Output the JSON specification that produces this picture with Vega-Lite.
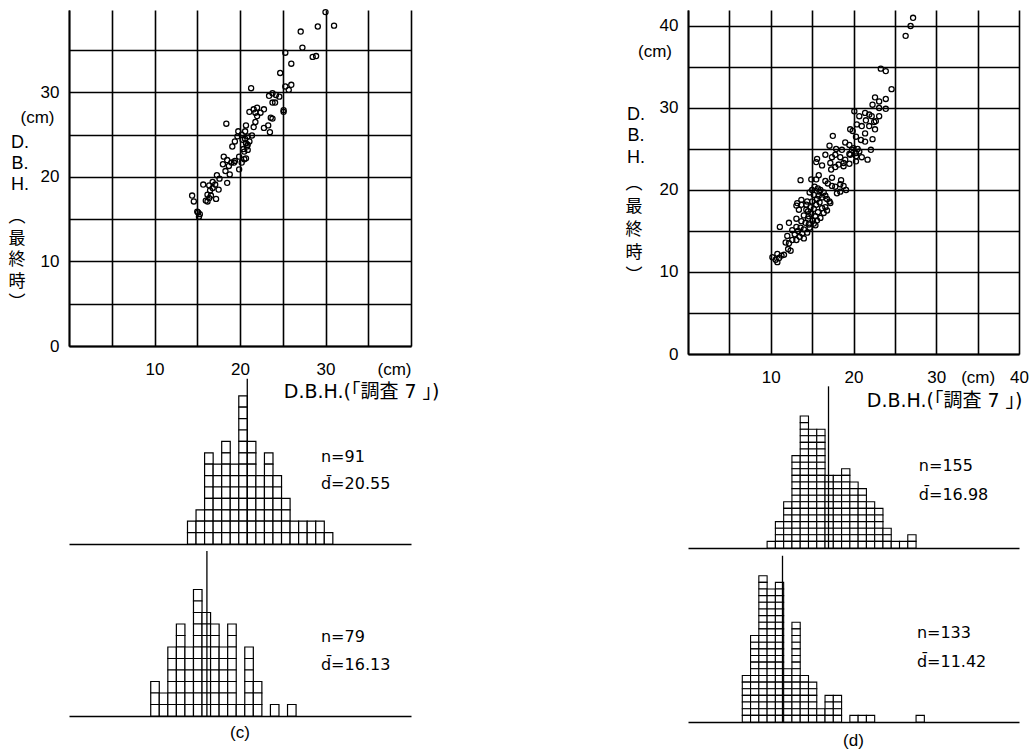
{
"$schema": "https://vega.github.io/schema/vega-lite/v6.json",
"background": "white",
"padding": {"left": 8, "top": 6, "right": 0, "bottom": 0},
"config": {"view": {"stroke": null}, "font": "Liberation Sans", "text": {"color": "black"}},
"datasets": {
"c_sc": [{"x":30.0,"y":39.5},{"x":31.0,"y":37.9},{"x":29.1,"y":37.8},{"x":27.1,"y":37.2},{"x":27.3,"y":35.3},{"x":28.5,"y":34.2},{"x":28.9,"y":34.3},{"x":25.3,"y":34.7},{"x":26.0,"y":33.4},{"x":24.7,"y":32.3},
{"x":26.0,"y":30.9},{"x":25.3,"y":30.7},{"x":25.7,"y":30.3},{"x":21.3,"y":30.5},{"x":23.4,"y":29.6},{"x":23.8,"y":29.9},{"x":24.6,"y":29.5},{"x":24.2,"y":29.7},{"x":23.8,"y":28.8},{"x":24.1,"y":28.8},
{"x":25.1,"y":27.9},{"x":25.1,"y":27.7},{"x":22.0,"y":28.2},{"x":22.8,"y":28.0},{"x":21.6,"y":28.0},{"x":21.1,"y":27.7},{"x":21.8,"y":27.6},{"x":22.4,"y":27.6},{"x":22.0,"y":27.2},{"x":23.6,"y":27.0},
{"x":23.8,"y":26.9},{"x":18.4,"y":26.3},{"x":20.7,"y":26.1},{"x":21.8,"y":26.5},{"x":21.6,"y":25.9},{"x":22.8,"y":25.8},{"x":23.3,"y":26.1},{"x":23.5,"y":25.3},{"x":19.8,"y":25.4},{"x":20.6,"y":25.4},
{"x":20.2,"y":25.0},{"x":19.7,"y":24.8},{"x":21.4,"y":24.9},{"x":20.9,"y":24.8},{"x":20.6,"y":24.5},{"x":20.3,"y":24.4},{"x":21.1,"y":24.2},{"x":20.7,"y":24.0},{"x":19.4,"y":24.2},{"x":19.1,"y":23.6},
{"x":20.9,"y":23.8},{"x":20.4,"y":23.3},{"x":20.5,"y":23.0},{"x":20.7,"y":22.2},{"x":19.9,"y":22.4},{"x":18.1,"y":22.4},{"x":18.5,"y":22.0},{"x":19.0,"y":21.7},{"x":19.4,"y":21.9},{"x":20.5,"y":22.1},
{"x":20.2,"y":21.7},{"x":18.0,"y":21.5},{"x":18.7,"y":21.3},{"x":19.9,"y":20.9},{"x":18.3,"y":20.7},{"x":17.3,"y":20.2},{"x":18.8,"y":20.3},{"x":17.6,"y":19.8},{"x":16.8,"y":19.4},{"x":17.1,"y":19.1},
{"x":18.5,"y":19.3},{"x":15.7,"y":19.1},{"x":16.4,"y":19.0},{"x":16.8,"y":18.7},{"x":17.5,"y":18.5},{"x":16.5,"y":18.4},{"x":16.2,"y":17.9},{"x":16.6,"y":17.8},{"x":17.2,"y":17.4},{"x":16.4,"y":17.5},
{"x":16.2,"y":17.1},{"x":16.0,"y":17.2},{"x":14.4,"y":17.8},{"x":14.6,"y":17.1},{"x":15.1,"y":15.8},{"x":15.3,"y":15.6},{"x":15.2,"y":15.3},{"x":15.0,"y":15.9},{"x":20.8,"y":23.6},{"x":20.9,"y":23.2},{"x":19.3,"y":21.7}],
"d_sc": [{"x":27.2,"y":41.0},{"x":26.9,"y":40.0},{"x":26.3,"y":38.8},{"x":23.3,"y":34.8},{"x":23.9,"y":34.5},{"x":24.6,"y":32.3},{"x":23.9,"y":31.1},{"x":22.6,"y":31.3},{"x":23.1,"y":30.8},{"x":22.3,"y":30.4},
{"x":23.1,"y":30.0},{"x":23.9,"y":29.9},{"x":20.1,"y":29.6},{"x":20.7,"y":29.0},{"x":21.4,"y":29.4},{"x":21.9,"y":29.2},{"x":22.2,"y":29.0},{"x":21.5,"y":28.5},{"x":22.5,"y":28.3},{"x":20.4,"y":28.0},
{"x":21.0,"y":27.8},{"x":21.9,"y":27.8},{"x":22.6,"y":27.4},{"x":19.6,"y":27.4},{"x":19.9,"y":27.2},{"x":21.4,"y":26.9},{"x":22.3,"y":26.2},{"x":20.3,"y":26.5},{"x":17.5,"y":26.6},{"x":21.4,"y":25.9},
{"x":19.0,"y":25.8},{"x":19.5,"y":25.5},{"x":17.1,"y":25.4},{"x":22.1,"y":24.9},{"x":18.6,"y":24.9},{"x":19.8,"y":24.9},{"x":20.3,"y":24.5},{"x":20.7,"y":24.7},{"x":19.5,"y":24.4},{"x":17.8,"y":24.3},
{"x":16.6,"y":24.3},{"x":18.4,"y":24.0},{"x":17.4,"y":24.0},{"x":21.0,"y":24.0},{"x":15.6,"y":23.8},{"x":20.3,"y":23.5},{"x":18.8,"y":23.3},{"x":19.5,"y":23.2},{"x":17.2,"y":23.3},{"x":18.2,"y":23.1},
{"x":15.5,"y":23.4},{"x":16.2,"y":23.0},{"x":17.8,"y":22.8},{"x":18.8,"y":22.9},{"x":17.3,"y":22.5},{"x":13.6,"y":21.2},{"x":14.9,"y":21.3},{"x":15.5,"y":21.3},{"x":18.5,"y":21.2},{"x":17.4,"y":21.5},
{"x":16.6,"y":21.1},{"x":18.4,"y":20.7},{"x":18.8,"y":20.5},{"x":17.4,"y":20.5},{"x":17.8,"y":20.4},{"x":19.1,"y":20.0},{"x":18.4,"y":19.8},{"x":15.3,"y":20.4},{"x":15.7,"y":20.2},{"x":14.7,"y":19.7},
{"x":15.2,"y":19.4},{"x":15.8,"y":19.3},{"x":16.2,"y":19.1},{"x":16.6,"y":19.3},{"x":15.6,"y":18.9},{"x":15.0,"y":18.6},{"x":17.1,"y":18.6},{"x":15.9,"y":18.5},{"x":15.5,"y":18.2},{"x":13.2,"y":18.4},
{"x":13.1,"y":18.1},{"x":13.7,"y":18.2},{"x":14.3,"y":18.2},{"x":14.8,"y":17.9},{"x":15.2,"y":17.7},{"x":16.2,"y":17.8},{"x":16.6,"y":17.9},{"x":16.8,"y":17.5},{"x":13.4,"y":17.6},{"x":14.5,"y":17.4},
{"x":15.7,"y":17.3},{"x":14.9,"y":17.1},{"x":14.0,"y":16.9},{"x":15.4,"y":16.8},{"x":16.0,"y":16.6},{"x":14.5,"y":16.5},{"x":15.1,"y":16.3},{"x":15.6,"y":16.3},{"x":13.1,"y":16.5},{"x":13.7,"y":16.2},
{"x":12.2,"y":16.0},{"x":11.1,"y":15.5},{"x":14.2,"y":16.0},{"x":14.6,"y":15.8},{"x":15.4,"y":15.7},{"x":13.1,"y":15.5},{"x":13.6,"y":15.4},{"x":14.0,"y":15.2},{"x":13.3,"y":15.0},{"x":14.4,"y":14.8},
{"x":13.8,"y":14.7},{"x":12.9,"y":14.6},{"x":12.0,"y":14.4},{"x":13.5,"y":14.3},{"x":14.0,"y":14.1},{"x":12.6,"y":13.9},{"x":13.1,"y":13.9},{"x":11.8,"y":13.6},{"x":12.2,"y":13.5},{"x":12.1,"y":12.8},
{"x":12.4,"y":12.6},{"x":11.6,"y":12.1},{"x":10.8,"y":12.2},{"x":11.0,"y":11.7},{"x":10.2,"y":11.8},{"x":10.6,"y":11.5},{"x":10.8,"y":11.2},{"x":11.3,"y":12.0},
{"x":15.0,"y":20.0},{"x":16.4,"y":19.7},{"x":16.0,"y":20.0},{"x":16.8,"y":18.9},{"x":14.3,"y":17.6},{"x":13.7,"y":18.8},{"x":16.4,"y":17.2},{"x":14.6,"y":16.8},{"x":15.2,"y":15.9},{"x":14.7,"y":15.4},
{"x":12.6,"y":15.1},{"x":20.9,"y":26.1},{"x":21.7,"y":23.7},{"x":20.0,"y":25.1},{"x":19.0,"y":23.7},{"x":16.9,"y":20.8},{"x":18.0,"y":19.6},{"x":15.8,"y":21.8},{"x":22.7,"y":28.4},{"x":23.1,"y":29.0},
{"x":19.6,"y":24.3},{"x":20.3,"y":24.1},{"x":17.2,"y":18.4},{"x":14.4,"y":18.6},{"x":17.9,"y":25.0},{"x":20.5,"y":25.0},{"x":15.9,"y":19.8}],
"c_h1": [{"d":14},{"d":14},
{"d":15},{"d":15},{"d":15},
{"d":16},{"d":16},{"d":16},{"d":16},{"d":16},{"d":16},{"d":16},{"d":16},
{"d":17},{"d":17},{"d":17},{"d":17},{"d":17},{"d":17},{"d":17},
{"d":18},{"d":18},{"d":18},{"d":18},{"d":18},{"d":18},{"d":18},{"d":18},{"d":18},
{"d":19},{"d":19},{"d":19},{"d":19},{"d":19},{"d":19},{"d":19},
{"d":20},{"d":20},{"d":20},{"d":20},{"d":20},{"d":20},{"d":20},{"d":20},{"d":20},{"d":20},{"d":20},{"d":20},{"d":20},
{"d":21},{"d":21},{"d":21},{"d":21},{"d":21},{"d":21},{"d":21},{"d":21},{"d":21},
{"d":22},{"d":22},{"d":22},{"d":22},{"d":22},{"d":22},
{"d":23},{"d":23},{"d":23},{"d":23},{"d":23},{"d":23},{"d":23},{"d":23},
{"d":24},{"d":24},{"d":24},{"d":24},{"d":24},{"d":24},
{"d":25},{"d":25},{"d":25},{"d":25},
{"d":26},{"d":26},{"d":27},{"d":27},{"d":28},{"d":28},{"d":29},{"d":29},{"d":30}],
"c_h2": [{"d":10},{"d":10},{"d":10},
{"d":11},{"d":11},
{"d":12},{"d":12},{"d":12},{"d":12},{"d":12},{"d":12},
{"d":13},{"d":13},{"d":13},{"d":13},{"d":13},{"d":13},{"d":13},{"d":13},
{"d":14},{"d":14},{"d":14},{"d":14},{"d":14},{"d":14},
{"d":15},{"d":15},{"d":15},{"d":15},{"d":15},{"d":15},{"d":15},{"d":15},{"d":15},{"d":15},{"d":15},
{"d":16},{"d":16},{"d":16},{"d":16},{"d":16},{"d":16},{"d":16},{"d":16},{"d":16},
{"d":17},{"d":17},{"d":17},{"d":17},{"d":17},{"d":17},{"d":17},{"d":17},
{"d":18},{"d":18},{"d":18},{"d":18},{"d":18},{"d":18},
{"d":19},{"d":19},{"d":19},{"d":19},{"d":19},{"d":19},{"d":19},{"d":19},
{"d":20},
{"d":21},{"d":21},{"d":21},{"d":21},{"d":21},{"d":21},
{"d":22},{"d":22},{"d":22},
{"d":24},{"d":26}],
"d_h1": [{"d":10},
{"d":11},{"d":11},{"d":11},{"d":11},
{"d":12},{"d":12},{"d":12},{"d":12},{"d":12},{"d":12},{"d":12},
{"d":13},{"d":13},{"d":13},{"d":13},{"d":13},{"d":13},{"d":13},{"d":13},{"d":13},{"d":13},{"d":13},{"d":13},{"d":13},{"d":13},
{"d":14},{"d":14},{"d":14},{"d":14},{"d":14},{"d":14},{"d":14},{"d":14},{"d":14},{"d":14},{"d":14},{"d":14},{"d":14},{"d":14},{"d":14},{"d":14},{"d":14},{"d":14},{"d":14},{"d":14},
{"d":15},{"d":15},{"d":15},{"d":15},{"d":15},{"d":15},{"d":15},{"d":15},{"d":15},{"d":15},{"d":15},{"d":15},{"d":15},{"d":15},{"d":15},{"d":15},{"d":15},{"d":15},
{"d":16},{"d":16},{"d":16},{"d":16},{"d":16},{"d":16},{"d":16},{"d":16},{"d":16},{"d":16},{"d":16},{"d":16},{"d":16},{"d":16},{"d":16},{"d":16},{"d":16},{"d":16},
{"d":17},{"d":17},{"d":17},{"d":17},{"d":17},{"d":17},{"d":17},{"d":17},{"d":17},{"d":17},{"d":17},
{"d":18},{"d":18},{"d":18},{"d":18},{"d":18},{"d":18},{"d":18},{"d":18},{"d":18},{"d":18},{"d":18},
{"d":19},{"d":19},{"d":19},{"d":19},{"d":19},{"d":19},{"d":19},{"d":19},{"d":19},{"d":19},{"d":19},{"d":19},
{"d":20},{"d":20},{"d":20},{"d":20},{"d":20},{"d":20},{"d":20},{"d":20},{"d":20},{"d":20},
{"d":21},{"d":21},{"d":21},{"d":21},{"d":21},{"d":21},{"d":21},{"d":21},{"d":21},
{"d":22},{"d":22},{"d":22},{"d":22},{"d":22},{"d":22},{"d":22},
{"d":23},{"d":23},{"d":23},{"d":23},{"d":23},{"d":23},
{"d":24},{"d":24},{"d":24},
{"d":25},{"d":26},{"d":27},{"d":27}],
"d_h2": [{"d":7},{"d":7},{"d":7},{"d":7},{"d":7},{"d":7},{"d":7},
{"d":8},{"d":8},{"d":8},{"d":8},{"d":8},{"d":8},{"d":8},{"d":8},{"d":8},{"d":8},{"d":8},{"d":8},{"d":8},
{"d":9},{"d":9},{"d":9},{"d":9},{"d":9},{"d":9},{"d":9},{"d":9},{"d":9},{"d":9},{"d":9},{"d":9},{"d":9},{"d":9},{"d":9},{"d":9},{"d":9},{"d":9},{"d":9},{"d":9},{"d":9},{"d":9},
{"d":10},{"d":10},{"d":10},{"d":10},{"d":10},{"d":10},{"d":10},{"d":10},{"d":10},{"d":10},{"d":10},{"d":10},{"d":10},{"d":10},{"d":10},{"d":10},{"d":10},{"d":10},{"d":10},{"d":10},
{"d":11},{"d":11},{"d":11},{"d":11},{"d":11},{"d":11},{"d":11},{"d":11},{"d":11},{"d":11},{"d":11},{"d":11},{"d":11},{"d":11},{"d":11},{"d":11},{"d":11},{"d":11},{"d":11},{"d":11},{"d":11},
{"d":12},{"d":12},{"d":12},{"d":12},{"d":12},{"d":12},{"d":12},{"d":12},
{"d":13},{"d":13},{"d":13},{"d":13},{"d":13},{"d":13},{"d":13},{"d":13},{"d":13},{"d":13},{"d":13},{"d":13},{"d":13},{"d":13},{"d":13},
{"d":14},{"d":14},{"d":14},{"d":14},{"d":14},{"d":14},{"d":14},
{"d":15},{"d":15},{"d":15},{"d":15},{"d":15},{"d":15},
{"d":16},{"d":16},
{"d":17},{"d":17},{"d":17},{"d":17},
{"d":18},{"d":18},{"d":18},{"d":18},
{"d":20},{"d":21},{"d":22},{"d":28}]
},
"bounds": "flush",
"spacing": 619,
"hconcat": [
{"bounds": "flush", "spacing": 18, "vconcat": [
 {"width": 342, "height": 336, "layer": [
  {"data": {"name": "c_sc"},
   "mark": {"type": "point", "filled": false, "size": 26, "strokeWidth": 1.3, "color": "black", "opacity": 1},
   "encoding": {
    "x": {"field": "x", "type": "quantitative", "scale": {"domain": [0, 40], "nice": false, "zero": false},
     "axis": {"values": [0,5,10,15,20,25,30,35,40], "grid": true, "gridColor": "black", "gridOpacity": 1, "gridWidth": 1.6,
      "ticks": false, "tickSize": 0, "domain": true, "domainColor": "black", "domainWidth": 1.8,
      "labelExpr": "datum.value == 40 ? '(cm)' : (datum.value % 10 == 0 && datum.value > 0 ? datum.label : '')",
      "labelAlign": {"condition": {"test": "datum.value == 40", "value": "right"}, "value": "center"},
      "labelFontSize": 17, "labelColor": "black", "labelPadding": 15, "labelOverlap": false, "labelBound": false, "labelFlush": false,
      "title": "D.B.H.(「調査 7 」)", "titleFont": "DejaVu Sans, Noto Sans CJK JP", "titleFontSize": 19, "titleFontWeight": "normal", "titleColor": "black",
      "titleAnchor": "end", "titleAlign": "right", "titleBaseline": "middle", "titleX": 370, "titleY": 45}},
    "y": {"field": "y", "type": "quantitative", "scale": {"domain": [0, 39.75], "nice": false},
     "axis": {"values": [0,5,10,15,20,25,30,35], "grid": true, "gridColor": "black", "gridOpacity": 1, "gridWidth": 1.6,
      "ticks": false, "tickSize": 0, "domain": true, "domainColor": "black", "domainWidth": 1.8,
      "labelExpr": "datum.value % 10 == 0 ? datum.label : ''", "labelFontSize": 17, "labelColor": "black", "labelPadding": 10, "labelOverlap": false, "title": null}}
   }},
  {"data": {"values": [{}]}, "mark": {"type": "text", "text": "(cm)", "fontSize": 17, "align": "center", "baseline": "middle"},
   "encoding": {"x": {"datum": -3.68, "type": "quantitative"}, "y": {"datum": 26.98, "type": "quantitative"}}},
  {"data": {"values": [{}]}, "mark": {"type": "text", "text": ["D.", "B.", "H."], "fontSize": 18, "lineHeight": 21, "align": "center", "baseline": "top"},
   "encoding": {"x": {"datum": -5.73, "type": "quantitative"}, "y": {"datum": 25.03, "type": "quantitative"}}},
  {"data": {"values": [{}]}, "mark": {"type": "text", "text": ["︵", "最", "終", "時", "︶"], "font": "Noto Sans CJK JP", "fontSize": 17, "lineHeight": 21.5, "align": "center", "baseline": "top"},
   "encoding": {"x": {"datum": -6.08, "type": "quantitative"}, "y": {"datum": 16.2, "type": "quantitative"}}}
 ]},
 {"width": 342, "height": 180, "layer": [
  {"data": {"name": "c_h1"}, "transform": [{"window": [{"op": "row_number", "as": "k"}], "groupby": ["d"]}],
   "mark": {"type": "bar", "fill": "white", "stroke": "black", "strokeWidth": 1.2, "binSpacing": 0},
   "encoding": {
    "x": {"field": "d", "type": "quantitative", "bin": {"step": 1, "anchor": 0.5, "extent": [-0.5, 40.5], "nice": false}, "scale": {"domain": [-0.3, 39.7], "nice": false, "zero": false},
     "axis": {"labels": false, "ticks": false, "grid": false, "domain": true, "domainColor": "black", "domainWidth": 1.6, "title": null}},
    "y": {"aggregate": "count", "type": "quantitative", "scale": {"domain": [0, 15.79], "nice": false}, "axis": null},
    "detail": {"field": "k", "type": "nominal"}}},
  {"data": {"values": [{"n": 91, "mean": 20.55}]}, "mark": {"type": "rule", "color": "black", "strokeWidth": 1.3},
   "encoding": {"x": {"field": "mean", "type": "quantitative"}, "y": {"datum": 0, "type": "quantitative"}, "y2": {"datum": 14.5}}},
  {"data": {"values": [{"n": 91, "mean": 20.55}]}, "mark": {"type": "text", "text": ["n=91", "d̄=20.55"], "font": "DejaVu Sans", "fontSize": 16, "lineHeight": 27, "align": "left", "baseline": "top"},
   "encoding": {"x": {"datum": 29.17, "type": "quantitative"}, "y": {"datum": 8.29, "type": "quantitative"}}}
 ]},
 {"width": 342, "height": 154, "title": {"text": "(c)", "orient": "bottom", "offset": 8, "fontSize": 17, "fontWeight": "normal", "font": "Liberation Sans", "color": "black"},
  "layer": [
  {"data": {"name": "c_h2"}, "transform": [{"window": [{"op": "row_number", "as": "k"}], "groupby": ["d"]}],
   "mark": {"type": "bar", "fill": "white", "stroke": "black", "strokeWidth": 1.2, "binSpacing": 0},
   "encoding": {
    "x": {"field": "d", "type": "quantitative", "bin": {"step": 1, "anchor": 0.5, "extent": [-0.5, 40.5], "nice": false}, "scale": {"domain": [0, 40], "nice": false, "zero": false},
     "axis": {"labels": false, "ticks": false, "grid": false, "domain": true, "domainColor": "black", "domainWidth": 1.6, "title": null}},
    "y": {"aggregate": "count", "type": "quantitative", "scale": {"domain": [0, 13.39], "nice": false}, "axis": null},
    "detail": {"field": "k", "type": "nominal"}}},
  {"data": {"values": [{"n": 79, "mean": 16.13}]}, "mark": {"type": "rule", "color": "black", "strokeWidth": 1.3},
   "encoding": {"x": {"field": "mean", "type": "quantitative"}, "y": {"datum": 0, "type": "quantitative"}, "y2": {"datum": 14.35}}},
  {"data": {"values": [{"n": 79, "mean": 16.13}]}, "mark": {"type": "text", "text": ["n=79", "d̄=16.13"], "font": "DejaVu Sans", "fontSize": 16, "lineHeight": 28, "align": "left", "baseline": "top"},
   "encoding": {"x": {"datum": 29.47, "type": "quantitative"}, "y": {"datum": 7.6, "type": "quantitative"}}}
 ]}
]},
{"bounds": "flush", "spacing": 18, "vconcat": [
 {"width": 331, "height": 344, "layer": [
  {"data": {"name": "d_sc"},
   "mark": {"type": "point", "filled": false, "size": 26, "strokeWidth": 1.3, "color": "black", "opacity": 1},
   "encoding": {
    "x": {"field": "x", "type": "quantitative", "scale": {"domain": [0, 40], "nice": false, "zero": false},
     "axis": {"values": [0,5,10,15,20,25,30,35,40], "grid": true, "gridColor": "black", "gridOpacity": 1, "gridWidth": 1.6,
      "ticks": false, "tickSize": 0, "domain": true, "domainColor": "black", "domainWidth": 1.8,
      "labelExpr": "datum.value == 35 ? '(cm)' : (datum.value % 10 == 0 && datum.value > 0 ? datum.label : '')",
      "labelFontSize": 17, "labelColor": "black", "labelPadding": 15, "labelOverlap": false, "labelBound": false, "labelFlush": false,
      "title": "D.B.H.(「調査 7 」)", "titleFont": "DejaVu Sans, Noto Sans CJK JP", "titleFontSize": 19, "titleFontWeight": "normal", "titleColor": "black",
      "titleAnchor": "end", "titleAlign": "right", "titleBaseline": "middle", "titleX": 334, "titleY": 46}},
    "y": {"field": "y", "type": "quantitative", "scale": {"domain": [0, 41.95], "nice": false},
     "axis": {"values": [0,5,10,15,20,25,30,35,40], "grid": true, "gridColor": "black", "gridOpacity": 1, "gridWidth": 1.6,
      "ticks": false, "tickSize": 0, "domain": true, "domainColor": "black", "domainWidth": 1.8,
      "labelExpr": "datum.value % 10 == 0 ? datum.label : ''", "labelFontSize": 17, "labelColor": "black", "labelPadding": 10, "labelOverlap": false, "title": null}}
   }},
  {"data": {"values": [{}]}, "mark": {"type": "text", "text": "(cm)", "fontSize": 17, "align": "center", "baseline": "middle"},
   "encoding": {"x": {"datum": -3.99, "type": "quantitative"}, "y": {"datum": 36.83, "type": "quantitative"}}},
  {"data": {"values": [{}]}, "mark": {"type": "text", "text": ["D.", "B.", "H."], "fontSize": 18, "lineHeight": 21.5, "align": "center", "baseline": "top"},
   "encoding": {"x": {"datum": -6.28, "type": "quantitative"}, "y": {"datum": 30.3, "type": "quantitative"}}},
  {"data": {"values": [{}]}, "mark": {"type": "text", "text": ["︵", "最", "終", "時", "︶"], "font": "Noto Sans CJK JP", "fontSize": 17, "lineHeight": 23, "align": "center", "baseline": "top"},
   "encoding": {"x": {"datum": -6.52, "type": "quantitative"}, "y": {"datum": 21.65, "type": "quantitative"}}}
 ]},
 {"width": 331, "height": 176, "layer": [
  {"data": {"name": "d_h1"}, "transform": [{"window": [{"op": "row_number", "as": "k"}], "groupby": ["d"]}],
   "mark": {"type": "bar", "fill": "white", "stroke": "black", "strokeWidth": 1.1, "binSpacing": 0},
   "encoding": {
    "x": {"field": "d", "type": "quantitative", "bin": {"step": 1, "anchor": 0.5, "extent": [-0.5, 40.5], "nice": false}, "scale": {"domain": [0, 40], "nice": false, "zero": false},
     "axis": {"labels": false, "ticks": false, "grid": false, "domain": true, "domainColor": "black", "domainWidth": 1.6, "title": null}},
    "y": {"aggregate": "count", "type": "quantitative", "scale": {"domain": [0, 26.67], "nice": false}, "axis": null},
    "detail": {"field": "k", "type": "nominal"}}},
  {"data": {"values": [{"n": 155, "mean": 16.98}]}, "mark": {"type": "rule", "color": "black", "strokeWidth": 1.3},
   "encoding": {"x": {"field": "mean", "type": "quantitative"}, "y": {"datum": 0, "type": "quantitative"}, "y2": {"datum": 24.5}}},
  {"data": {"values": [{"n": 155, "mean": 16.98}]}, "mark": {"type": "text", "text": ["n=155", "d̄=16.98"], "font": "DejaVu Sans", "fontSize": 16, "lineHeight": 29, "align": "left", "baseline": "top"},
   "encoding": {"x": {"datum": 27.9, "type": "quantitative"}, "y": {"datum": 13.7, "type": "quantitative"}}}
 ]},
 {"width": 331, "height": 156, "title": {"text": "(d)", "orient": "bottom", "offset": 10, "fontSize": 17, "fontWeight": "normal", "font": "Liberation Sans", "color": "black"},
  "layer": [
  {"data": {"name": "d_h2"}, "transform": [{"window": [{"op": "row_number", "as": "k"}], "groupby": ["d"]}],
   "mark": {"type": "bar", "fill": "white", "stroke": "black", "strokeWidth": 1.1, "binSpacing": 0},
   "encoding": {
    "x": {"field": "d", "type": "quantitative", "bin": {"step": 1, "anchor": 0.5, "extent": [-0.5, 40.5], "nice": false}, "scale": {"domain": [0, 40], "nice": false, "zero": false},
     "axis": {"labels": false, "ticks": false, "grid": false, "domain": true, "domainColor": "black", "domainWidth": 1.6, "title": null}},
    "y": {"aggregate": "count", "type": "quantitative", "scale": {"domain": [0, 23.46], "nice": false}, "axis": null},
    "detail": {"field": "k", "type": "nominal"}}},
  {"data": {"values": [{"n": 133, "mean": 11.42}]}, "mark": {"type": "rule", "color": "black", "strokeWidth": 1.3},
   "encoding": {"x": {"field": "mean", "type": "quantitative"}, "y": {"datum": 0, "type": "quantitative"}, "y2": {"datum": 25}}},
  {"data": {"values": [{"n": 133, "mean": 11.42}]}, "mark": {"type": "text", "text": ["n=133", "d̄=11.42"], "font": "DejaVu Sans", "fontSize": 16, "lineHeight": 29, "align": "left", "baseline": "top"},
   "encoding": {"x": {"datum": 27.66, "type": "quantitative"}, "y": {"datum": 14.6, "type": "quantitative"}}}
 ]}
]}
]
}
